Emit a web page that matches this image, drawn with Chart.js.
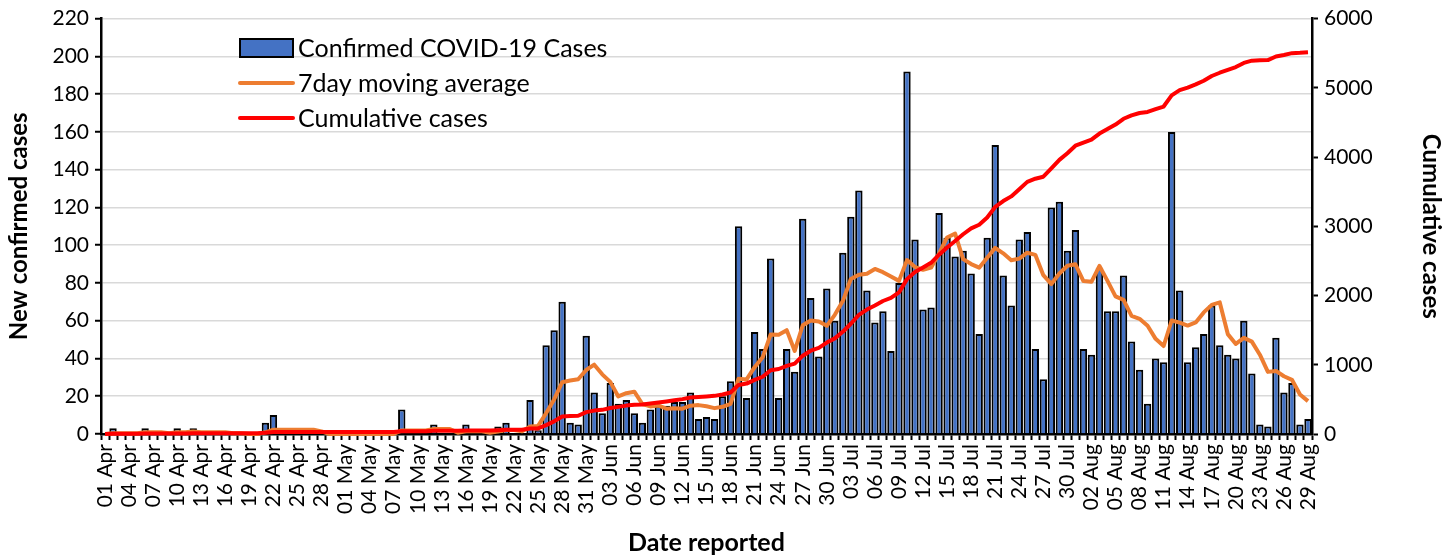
<!DOCTYPE html>
<html>
<head>
<meta charset="utf-8">
<script src="https://cdn.jsdelivr.net/npm/chart.js@4.4.0/dist/chart.umd.min.js"></script>
<style>
  html, body { margin: 0; padding: 0; background: #fff; }
</style>
</head>
<body>
<canvas id="chart" width="1446" height="560"></canvas>
<script>
// Months shown on the axis (day counts), used to build the daily categories
const monthNames = ["Apr", "May", "Jun", "Jul", "Aug"];
const monthDays = [30, 31, 30, 31, 29];

// Daily new confirmed cases (Apr 1 .. Aug 29)
const newCases = [
  // Apr
  0, 3, 0, 0, 0, 3, 0, 0, 0, 3, 0, 3, 0, 0, 0, 0, 0, 0, 0, 0,
  6, 10, 0, 0, 0, 0, 0, 0, 0, 0,
  // May
  0, 0, 0, 0, 0, 0, 0, 13, 0, 0, 0, 5, 0, 0, 0, 5, 0, 0, 0, 4,
  6, 0, 0, 18, 2, 47, 55, 70, 6, 5, 52,
  // Jun
  22, 11, 27, 16, 18, 11, 6, 13, 15, 15, 17, 17, 22, 8, 9, 8, 20, 28, 110, 19,
  54, 45, 93, 19, 45, 33, 114, 72, 41, 77,
  // Jul
  60, 96, 115, 129, 76, 59, 65, 44, 80, 192, 103, 66, 67, 117, 104, 94, 97, 85, 53, 104,
  153, 84, 68, 103, 107, 45, 29, 120, 123, 97, 108,
  // Aug
  45, 42, 88, 65, 65, 84, 49, 34, 16, 40, 38, 160, 76, 38, 46, 53, 68, 47, 42, 40,
  60, 32, 5, 4, 51, 22, 27, 5, 8,
];

// 7-day moving average (orange line)
const movingAvg = [
  // Apr
  0, 0.4, 0.4, 0.4, 0.4, 0.9, 0.9, 0.9, 0.4, 0.9, 0.9, 1.3, 0.9, 0.9, 0.9, 0.9, 0.4, 0.4, 0, 0,
  0.9, 2.3, 2.3, 2.3, 2.3, 2.3, 2.3, 1.4, 0, 0,
  // May
  0, 0, 0, 0, 0, 0, 0, 1.9, 1.9, 1.9, 1.9, 2.6, 2.6, 2.6, 0.7, 1.4, 1.4, 1.4, 0.7, 1.3,
  2.1, 2.1, 1.4, 4.0, 4.3, 11.0, 18.3, 27.4, 28.3, 29.0, 33.9,
  // Jun
  36.7, 31.6, 27.6, 19.9, 21.6, 22.4, 15.9, 14.6, 15.1, 13.4, 13.6, 13.4, 15.0, 15.3, 14.7, 13.7, 14.4, 16.0, 29.3, 28.9,
  35.4, 40.6, 52.7, 52.6, 55.0, 44.0, 57.6, 60.1, 59.6, 57.3,
  // Jul
  63.1, 70.4, 82.1, 84.3, 84.9, 87.4, 85.7, 83.4, 81.1, 92.1, 88.4, 87.0, 88.1, 95.6, 104.1, 106.1, 92.6, 90.0, 88.1, 93.4,
  98.6, 95.7, 92.0, 92.9, 96.0, 94.9, 84.1, 79.4, 85.0, 89.1, 89.9,
  // Aug
  81.0, 80.6, 89.0, 81.1, 72.9, 71.0, 62.6, 61.0, 57.3, 50.4, 46.6, 60.1, 59.0, 57.4, 59.1, 64.4, 68.4, 69.7, 52.9, 47.7,
  50.9, 48.9, 42.0, 32.9, 33.4, 30.6, 28.7, 20.9, 17.4,
];

// Cumulative cases (red line, right axis)
const cumulative = [
  // Apr
  0, 3, 3, 3, 3, 6, 6, 6, 6, 9, 9, 12, 12, 12, 12, 12, 12, 12, 12, 12,
  18, 28, 28, 28, 28, 28, 28, 28, 28, 28,
  // May
  28, 28, 28, 28, 28, 28, 28, 41, 41, 41, 41, 46, 46, 46, 46, 51, 51, 51, 51, 55,
  61, 61, 61, 79, 81, 128, 183, 253, 259, 264, 316,
  // Jun
  338, 349, 376, 392, 410, 421, 427, 440, 455, 470, 487, 504, 526, 534, 543, 551, 571, 599, 709, 728,
  782, 827, 920, 939, 984, 1017, 1131, 1203, 1244, 1321,
  // Jul
  1381, 1477, 1592, 1721, 1797, 1856, 1921, 1965, 2045, 2237, 2340, 2406, 2473, 2590, 2694, 2788, 2885, 2970, 3023, 3127,
  3280, 3364, 3432, 3535, 3642, 3687, 3716, 3836, 3959, 4056, 4164,
  // Aug
  4209, 4251, 4339, 4404, 4469, 4553, 4602, 4636, 4652, 4692, 4730, 4890, 4966, 5004, 5050, 5103, 5171, 5218, 5260, 5300,
  5360, 5392, 5397, 5401, 5452, 5474, 5501, 5506, 5514,
];

// Category labels "01 Apr" .. "29 Aug"
const dates = [];
monthNames.forEach((m, k) => {
  for (let d = 1; d <= monthDays[k]; d++) {
    dates.push(String(d).padStart(2, "0") + " " + m);
  }
});

Chart.defaults.font.family = "Lato, 'Open Sans', sans-serif";
Chart.defaults.color = "#000";

// Legend drawn inside the plot, top left
const insideLegend = {
  id: "insideLegend",
  afterDraw(chart) {
    const ctx = chart.ctx;
    const x0 = 240;
    const w = 53;
    const rows = [48, 83, 118];
    ctx.save();
    ctx.font = "25px Lato";
    ctx.textBaseline = "middle";
    chart.data.datasets.forEach((ds, k) => {
      const y = rows[k];
      if (ds.type === "bar") {
        ctx.fillStyle = ds.backgroundColor;
        ctx.fillRect(x0, y - 9, w, 18);
        ctx.strokeStyle = "#000";
        ctx.lineWidth = 2;
        ctx.strokeRect(x0, y - 9, w, 18);
      } else {
        ctx.strokeStyle = ds.borderColor;
        ctx.lineWidth = 4;
        ctx.lineCap = "round";
        ctx.beginPath();
        ctx.moveTo(x0, y);
        ctx.lineTo(x0 + w, y);
        ctx.stroke();
      }
      ctx.fillStyle = "#000";
      ctx.fillText(ds.label, x0 + w + 5, y + 1);
    });
    ctx.restore();
  },
};

new Chart(document.getElementById("chart"), {
  data: {
    labels: dates,
    datasets: [
      {
        type: "bar",
        label: "Confirmed COVID-19 Cases",
        data: newCases,
        backgroundColor: "#4472C4",
        borderColor: "#000",
        borderWidth: 2,
        barPercentage: 0.92,
        categoryPercentage: 1.0,
        yAxisID: "y",
        order: 3,
      },
      {
        type: "line",
        label: "7day moving average",
        data: movingAvg,
        borderColor: "#ED7D31",
        borderWidth: 4,
        pointRadius: 0,
        borderJoinStyle: "round",
        clip: false,
        yAxisID: "y",
        order: 2,
      },
      {
        type: "line",
        label: "Cumulative cases",
        data: cumulative,
        borderColor: "#FF0000",
        borderWidth: 4,
        pointRadius: 0,
        borderJoinStyle: "round",
        clip: false,
        yAxisID: "y1",
        order: 1,
      },
    ],
  },
  options: {
    responsive: false,
    animation: false,
    layout: { padding: { top: 18, right: 0, left: 0, bottom: 0 } },
    plugins: {
      legend: { display: false },
      tooltip: { enabled: false },
    },
    scales: {
      x: {
        afterFit: (s) => { s.height = 126; },
        grid: {
          drawOnChartArea: false,
          tickColor: "#000",
          tickLength: 6,
          tickWidth: 2,
        },
        border: { color: "#000", width: 2.5 },
        ticks: {
          autoSkip: false,
          maxRotation: 90,
          minRotation: 90,
          padding: 4,
          font: { size: 21 },
          callback: function (value, index) {
            return index % 3 === 0 ? this.getLabelForValue(value) : "";
          },
        },
        title: {
          display: true,
          text: "Date reported",
          font: { size: 25, weight: "bold" },
          padding: { top: 0, bottom: 2 },
        },
      },
      y: {
        position: "left",
        min: 0,
        max: 220,
        afterFit: (s) => { s.width = 101; },
        grid: {
          color: "#d9d9d9",
          lineWidth: 1.5,
          tickColor: "#000",
          tickLength: 6,
          tickWidth: 2,
        },
        border: { color: "#000", width: 2.5 },
        ticks: { stepSize: 20, padding: 6, font: { size: 21 } },
        title: {
          display: true,
          text: "New confirmed cases",
          font: { size: 24, weight: "bold" },
          padding: { top: 5, bottom: 0 },
        },
      },
      y1: {
        position: "right",
        min: 0,
        max: 6000,
        afterFit: (s) => { s.width = 134; },
        grid: {
          drawOnChartArea: false,
          tickColor: "#000",
          tickLength: 6,
          tickWidth: 2,
        },
        border: { color: "#000", width: 2.5 },
        ticks: {
          stepSize: 1000,
          padding: 6,
          font: { size: 21 },
          callback: (v) => String(v),
        },
        title: {
          display: true,
          text: "Cumulative cases",
          font: { size: 24, weight: "bold" },
          padding: { top: 1, bottom: 0 },
        },
      },
    },
  },
  plugins: [insideLegend],
});
</script>
</body>
</html>
